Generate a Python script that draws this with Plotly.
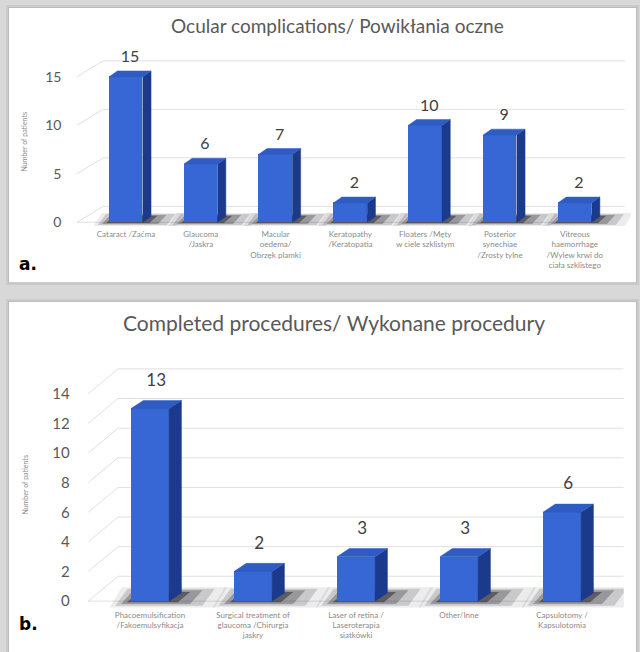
import plotly.graph_objects as go

W, H = 640, 652

# ---------------- data ----------------
complication_labels = [
    "Cataract /Zaćma",
    "Glaucoma<br>/Jaskra",
    "Macular<br>oedema/<br>Obrzęk plamki",
    "Keratopathy<br>/Keratopatia",
    "Floaters /Męty<br>w ciele szklistym",
    "Posterior<br>synechiae<br>/Zrosty tylne",
    "Vitreous<br>haemorrhage<br>/Wylew krwi do<br>ciała szklistego",
]
complication_counts = [15, 6, 7, 2, 10, 9, 2]
complication_ticks = [0, 5, 10, 15]

procedure_labels = [
    "Phacoemulsification<br>/Fakoemulsyfikacja",
    "Surgical treatment of<br>glaucoma /Chirurgia<br>jaskry",
    "Laser of retina /<br>Laseroterapia<br>siatkówki",
    "Other/Inne",
    "Capsulotomy /<br>Kapsulotomia",
]
procedure_counts = [13, 2, 3, 3, 6]
procedure_ticks = [0, 2, 4, 6, 8, 10, 12, 14]

# ---------------- styling ----------------
FRONT = "#3767d4"
TOP = "#2f5cc2"
SIDE = "#1c3a8c"
GRID = "#e0e0e0"
TEXT = "#595959"
LABEL = "#404040"
FONT = "Lato"


def fx(p):
    return p / W


def fy(p):
    return 1 - p / H


fig = go.Figure()


def poly_path(pts):
    return "M " + " L ".join(f"{x},{y}" for x, y in pts) + " Z"


def add_3d_columns(counts, ticks, xr, yr, bar_w, dx, dy,
                   wall_dx, wall_dy, wall_x, grid_end, value_size, label_gap):
    xs = list(range(len(counts)))

    # side wall diagonals + back wall grid lines
    for t in ticks:
        fig.add_shape(type="line", xref=xr, yref=yr, layer="below",
                      x0=wall_x, y0=t, x1=wall_x + wall_dx, y1=t + wall_dy,
                      line=dict(color=GRID, width=1))
        fig.add_shape(type="line", xref=xr, yref=yr, layer="below",
                      x0=wall_x + wall_dx, y0=t + wall_dy, x1=grid_end, y1=t + wall_dy,
                      line=dict(color=GRID, width=1))
    # floor front edge
    fig.add_shape(type="line", xref=xr, yref=yr, layer="below",
                  x0=wall_x, y0=0, x1=grid_end - wall_dx, y1=0,
                  line=dict(color=GRID, width=1))

    # soft floor shadows around each column base (darker toward the column)
    for i in xs:
        l, r = i - bar_w / 2, i + bar_w / 2
        for grow, alpha in [(0.26, 0.08), (0.19, 0.15), (0.12, 0.26), (0.05, 0.42)]:
            k = grow / bar_w
            pts = [(l - grow * 0.8, -dy * k * 1.1),
                   (r + grow * 1.7, -dy * k * 1.1),
                   (r + dx + grow * 1.7, dy * (1 + k)),
                   (l + dx - grow * 0.8, dy * (1 + k))]
            fig.add_shape(type="path", xref=xr, yref=yr, layer="below",
                          path=poly_path(pts), fillcolor=f"rgba(10,10,20,{alpha})",
                          line=dict(width=0))

    # side faces
    sx, sy = [], []
    for i, v in zip(xs, counts):
        r = i + bar_w / 2
        sx += [r, r + dx, r + dx, r, r, None]
        sy += [0, dy, v + dy, v, 0, None]
    fig.add_trace(go.Scatter(x=sx, y=sy, mode="lines", fill="toself",
                             fillcolor=SIDE, line=dict(width=0.5, color=SIDE),
                             hoverinfo="skip", showlegend=False, xaxis=xr, yaxis=yr))

    # front faces
    fig.add_trace(go.Bar(x=xs, y=counts, width=bar_w,
                         marker=dict(color=FRONT, line=dict(width=0)),
                         hoverinfo="skip", showlegend=False, xaxis=xr, yaxis=yr))

    # top faces
    tx, ty = [], []
    for i, v in zip(xs, counts):
        l, r = i - bar_w / 2, i + bar_w / 2
        tx += [l, r, r + dx, l + dx, l, None]
        ty += [v, v, v + dy, v + dy, v, None]
    fig.add_trace(go.Scatter(x=tx, y=ty, mode="lines", fill="toself",
                             fillcolor=TOP, line=dict(width=0.5, color=TOP),
                             hoverinfo="skip", showlegend=False, xaxis=xr, yaxis=yr))

    # value labels
    fig.add_trace(go.Scatter(x=[i + dx / 2 for i in xs],
                             y=[v + dy + label_gap for v in counts],
                             mode="text", text=[str(v) for v in counts],
                             textposition="top center", cliponaxis=False,
                             textfont=dict(family=FONT, size=value_size, color=LABEL),
                             hoverinfo="skip", showlegend=False, xaxis=xr, yaxis=yr))


# panel a: ocular complications
add_3d_columns(complication_counts, complication_ticks, "x", "y",
               bar_w=0.45, dx=0.11, dy=0.6, wall_dx=0.35, wall_dy=1.64,
               wall_x=-0.655, grid_end=6.67, value_size=16, label_gap=0.5)
# panel b: completed procedures
add_3d_columns(procedure_counts, procedure_ticks, "x2", "y2",
               bar_w=0.37, dx=0.12, dy=0.55, wall_dx=0.29, wall_dy=1.68,
               wall_x=-0.6, grid_end=4.6, value_size=17, label_gap=0.7)

axis_common = dict(showgrid=False, zeroline=False, showline=False, ticks="",
                   fixedrange=True)

fig.update_layout(
    width=W, height=H,
    margin=dict(l=0, r=0, t=0, b=0),
    paper_bgcolor="#d8d8d8",
    plot_bgcolor="rgba(0,0,0,0)",
    bargap=0,
    font=dict(family=FONT, color=TEXT),
    xaxis=dict(domain=[fx(62.4), fx(630.9)], range=[-0.85, 6.75], anchor="y",
               tickvals=list(range(len(complication_labels))), ticktext=complication_labels,
               tickangle=0, tickfont=dict(size=8, color="#8a8a8a"), **axis_common),
    yaxis=dict(domain=[fy(228.8), fy(55.6)], range=[-0.6, 17.2], anchor="x",
               tickvals=complication_ticks, tickfont=dict(size=14, color=TEXT),
               title=dict(text="Number of patients", font=dict(size=7, color="#8a8a8a"),
                          standoff=16),
               **axis_common),
    xaxis2=dict(domain=[fx(70.7), fx(623.8)], range=[-0.77, 4.6], anchor="y2",
                tickvals=list(range(len(procedure_labels))), ticktext=procedure_labels,
                tickangle=0, tickfont=dict(size=8, color="#8a8a8a"), **axis_common),
    yaxis2=dict(domain=[fy(610.4), fy(362.3)], range=[-0.5, 16.2], anchor="x2",
                tickvals=procedure_ticks, tickfont=dict(size=15, color=TEXT),
                title=dict(text="Number of patients", font=dict(size=7, color="#8a8a8a"),
                           standoff=22),
                **axis_common),
)

# white panel cards with a soft edge
panels = [(9, 8, 636, 283), (9, 303, 636, 660)]
for x0, y0, x1, y1 in panels:
    fig.add_shape(type="rect", xref="paper", yref="paper", layer="below",
                  x0=fx(x0 - 3), y0=fy(y1 + 3), x1=fx(x1 + 3), y1=fy(y0 - 3),
                  fillcolor="#cbcbcb", line=dict(width=0))
    fig.add_shape(type="rect", xref="paper", yref="paper", layer="below",
                  x0=fx(x0 - 1), y0=fy(y1 + 1), x1=fx(x1 + 1), y1=fy(y0 - 1),
                  fillcolor="#bdbdbd", line=dict(width=0))
    fig.add_shape(type="rect", xref="paper", yref="paper", layer="below",
                  x0=fx(x0), y0=fy(y1), x1=fx(x1), y1=fy(y0),
                  fillcolor="white", line=dict(width=0))

# chart titles
fig.add_annotation(x=fx(337), y=fy(26), xref="paper", yref="paper", showarrow=False,
                   yanchor="middle",
                   text="Ocular complications/ Powikłania oczne",
                   font=dict(family=FONT, size=19, color=TEXT))
fig.add_annotation(x=fx(334), y=fy(323), xref="paper", yref="paper", showarrow=False,
                   yanchor="middle",
                   text="Completed procedures/ Wykonane procedury",
                   font=dict(family=FONT, size=21, color=TEXT))

# panel letters
fig.add_annotation(x=fx(17), y=fy(265), xref="paper", yref="paper", showarrow=False,
                   xanchor="left", text="<b>a.</b>",
                   font=dict(family="DejaVu Sans", size=17, color="black"))
fig.add_annotation(x=fx(17), y=fy(638), xref="paper", yref="paper", showarrow=False,
                   xanchor="left", text="<b>b.</b>",
                   font=dict(family="DejaVu Sans", size=17, color="black"))

fig.write_html("out.html")
